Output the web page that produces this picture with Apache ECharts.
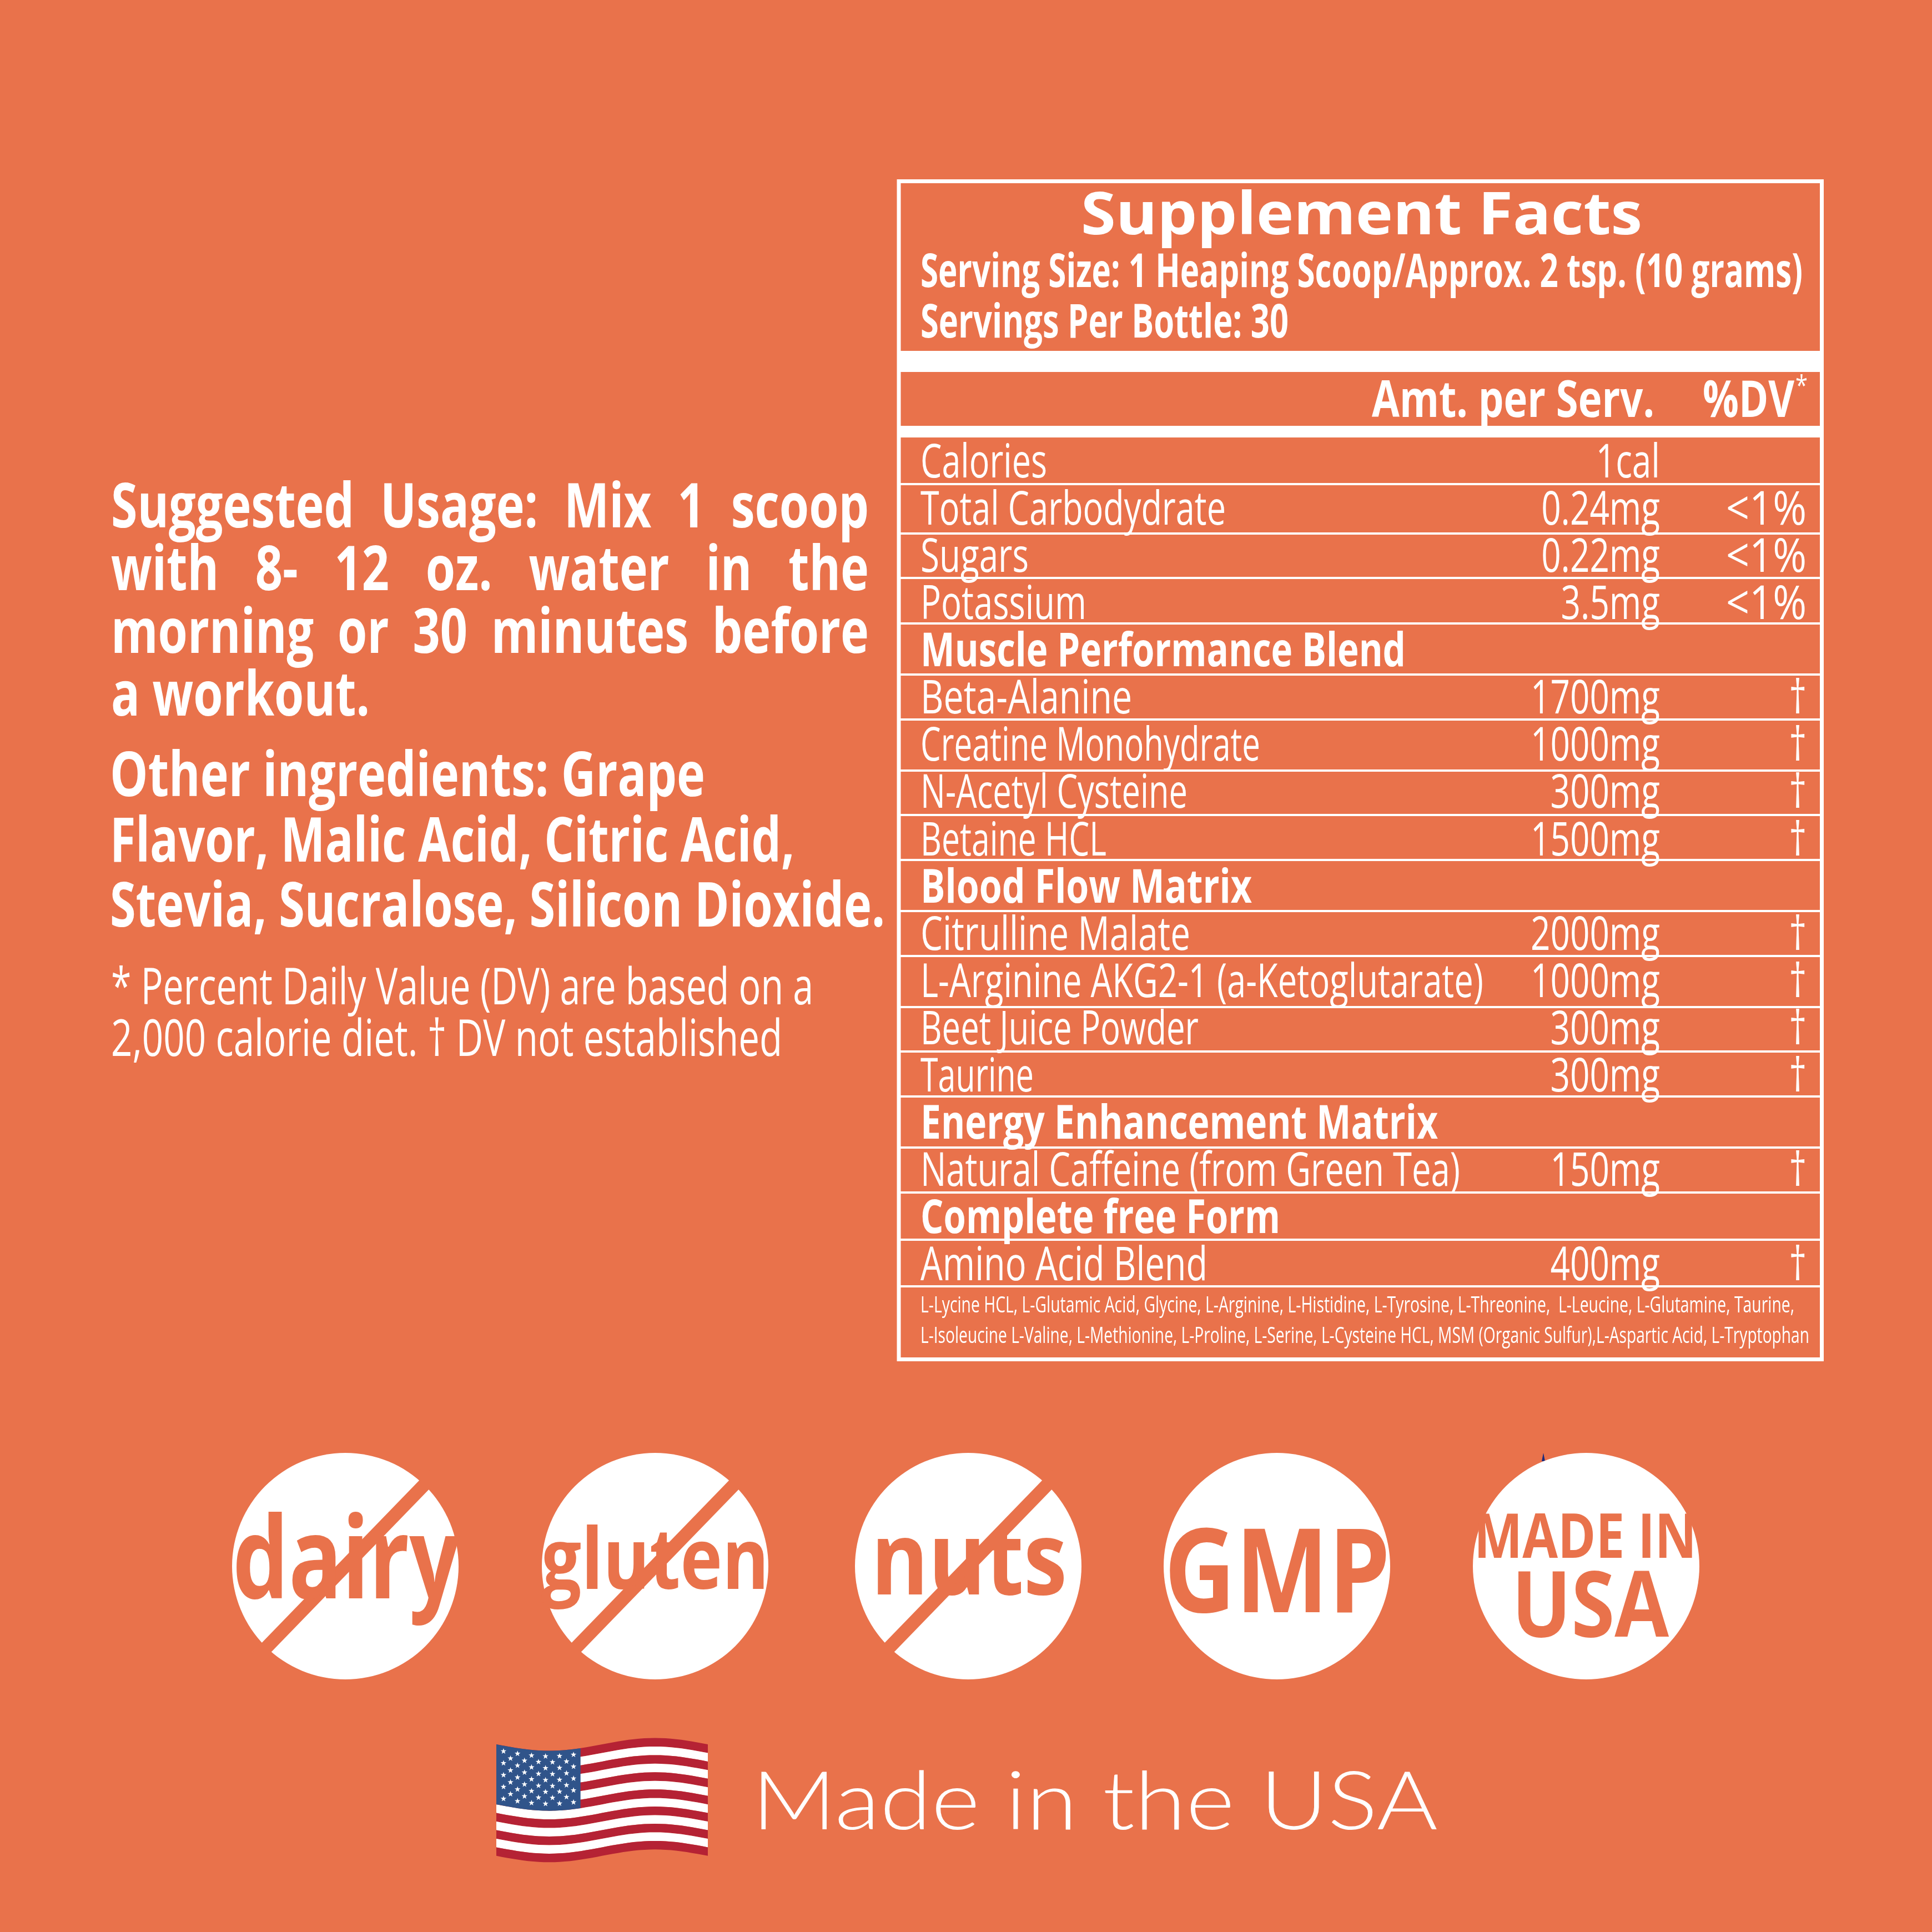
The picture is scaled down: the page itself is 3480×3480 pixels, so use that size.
<!DOCTYPE html>
<html>
<head>
<meta charset="utf-8">
<style>html,body{margin:0;padding:0;background:#E9724B}#main{width:3480px;height:3480px}</style>
<script src="https://cdn.jsdelivr.net/npm/echarts@6/dist/echarts.min.js"></script>
</head>
<body>
<div id="main"></div>
<script>
// table content
var rowNames = ['Calories','Total Carbodydrate','Sugars','Potassium','Muscle Performance Blend','Beta-Alanine','Creatine Monohydrate','N-Acetyl Cysteine','Betaine HCL','Blood Flow Matrix','Citrulline Malate','L-Arginine AKG2-1 (a-Ketoglutarate)','Beet Juice Powder','Taurine','Energy Enhancement Matrix','Natural Caffeine (from Green Tea)','Complete free Form','Amino Acid Blend'];
var rowAmounts = ['1cal','0.24mg','0.22mg','3.5mg','','1700mg','1000mg','300mg','1500mg','','2000mg','1000mg','300mg','300mg','','150mg','','400mg'];
var rowDv = ['','<1%','<1%','<1%','','†','†','†','†','','†','†','†','†','','†','','†'];
var blendNotes = ['L-Lycine HCL, L-Glutamic Acid, Glycine, L-Arginine, L-Histidine, L-Tyrosine, L-Threonine,  L-Leucine, L-Glutamine, Taurine,','L-Isoleucine L-Valine, L-Methionine, L-Proline, L-Serine, L-Cysteine HCL, MSM (Organic Sulfur),L-Aspartic Acid, L-Tryptophan'];
var usageLines = ['Suggested Usage: Mix 1 scoop','with 8- 12 oz. water in the','morning or 30 minutes before','a workout.'];
var otherLines = ['Other ingredients: Grape','Flavor, Malic Acid, Citric Acid,','Stevia, Sucralose, Silicon Dioxide.'];
var noteLines = ['* Percent Daily Value (DV) are based on a','2,000 calorie diet. † DV not established'];

var BG = '#E9724B', WHITE = '#fff', FONT = '"Open Sans"';
var g = [];
var ctx = document.createElement('canvas').getContext('2d');

function fontStr(size, weight) { return weight + ' ' + size + 'px ' + FONT; }
function measure(s, size, weight) { ctx.font = fontStr(size, weight); return ctx.measureText(s).width; }
// zrender draws text on the middle baseline, so work out where the alphabetic one lands
function midOffset(size, weight) {
    ctx.font = fontStr(size, weight);
    ctx.textBaseline = 'middle';
    return ctx.measureText('H').actualBoundingBoxDescent;
}
function text(s, x, base, size, weight, sx, align, fill, z) {
    g.push({
        type: 'text', x: x, y: base - midOffset(size, weight), scaleX: sx, z: z || 10,
        style: { text: s, fontFamily: FONT, fontSize: size, fontWeight: weight, fill: fill || WHITE, align: align || 'left', verticalAlign: 'middle' }
    });
}
// fit a string between two x positions
function fit(s, x0, x1, base, size, weight, fill, z) {
    text(s, x0, base, size, weight, (x1 - x0) / measure(s, size, weight), 'left', fill, z);
}
function justify(s, x0, x1, base, size, weight, sx) {
    var words = s.split(' ');
    var total = 0;
    words.forEach(function (w) { total += measure(w, size, weight) * sx; });
    var gap = (x1 - x0 - total) / (words.length - 1);
    var x = x0;
    words.forEach(function (w) {
        text(w, x, base, size, weight, sx);
        x += measure(w, size, weight) * sx + gap;
    });
}
function rect(x, y, w, h, fill) {
    g.push({ type: 'rect', z: 5, shape: { x: x, y: y, width: w, height: h }, style: { fill: fill } });
}

// left column
var usageScale = 466 / measure(usageLines[3], 112, 700);
justify(usageLines[0], 200, 1565, 950, 112, 700, usageScale);
justify(usageLines[1], 200, 1565, 1063, 112, 700, usageScale);
justify(usageLines[2], 200, 1565, 1176, 112, 700, usageScale);
text(usageLines[3], 200, 1289, 112, 700, usageScale);
fit(otherLines[0], 198, 1270, 1434, 112, 700);
fit(otherLines[1], 198, 1431, 1552, 112, 700);
fit(otherLines[2], 198, 1594, 1669, 112, 700);
fit(noteLines[0], 200, 1465, 1809, 92, 400);
fit(noteLines[1], 200, 1409, 1902, 92, 400);

// facts box
g.push({ type: 'rect', z: 5, shape: { x: 1619, y: 326.5, width: 1662.5, height: 2122 }, style: { fill: 'none', stroke: WHITE, lineWidth: 7 } });
rect(1619, 632, 1662, 38, WHITE);
rect(1619, 767, 1662, 21, WHITE);
fit('Supplement Facts', 1947, 2958, 422, 105, 700);
fit('Serving Size: 1 Heaping Scoop/Approx. 2 tsp. (10 grams)', 1658, 3247, 517, 85, 700);
fit('Servings Per Bottle: 30', 1658, 2321, 608, 85, 700);
fit('Amt. per Serv.', 2471, 2980, 751, 92, 700);
fit('%DV', 3067, 3232, 751, 92, 700);
text('*', 3234, 712, 50, 400, 0.8);

var rowBottoms = [872, 961, 1041, 1123, 1215, 1296, 1388, 1468, 1549, 1641, 1722, 1814, 1894, 1975, 2067, 2148, 2233, 2317];
var rowBases = [860, 945, 1030, 1115, 1200, 1285, 1370, 1455, 1541, 1626, 1711, 1796, 1881, 1966, 2051, 2136, 2221, 2306];
var nameEnds = [1886, 2208, 1853, 1957, 2532, 2039, 2270, 2139, 1993, 2255, 2144, 2672, 2159, 1862, 2590, 2630, 2306, 2175];
var rowScale = 0.73;
rowNames.forEach(function (name, i) {
    var base = rowBases[i];
    rect(1619, rowBottoms[i] - 2, 1662, 4, WHITE);
    if (rowAmounts[i] === '') {
        fit(name, 1658, nameEnds[i], base, 85, 700);
    } else {
        fit(name, 1658, nameEnds[i], base, 85, 400);
        text(rowAmounts[i], 2990, base, 85, 400, rowScale, 'right');
        if (rowDv[i] === '†') text(rowDv[i], 3254, base, 85, 400, rowScale, 'right');
        else if (rowDv[i]) text(rowDv[i], 3254, base, 85, 400, 145 / measure(rowDv[i], 85, 400), 'right');
    }
});
fit(blendNotes[0], 1658, 3232, 2364, 41, 400);
fit(blendNotes[1], 1658, 3259, 2419, 41, 400);

// badges
function badge(cx, slash) {
    g.push({ type: 'circle', z: 5, shape: { cx: cx, cy: 2821, r: 204 }, style: { fill: WHITE } });
    if (slash) g.push({ type: 'line', z: 6, shape: { x1: cx + 160, y1: 2821 - 165, x2: cx - 160, y2: 2821 + 165 }, style: { stroke: BG, lineWidth: 24 } });
}
badge(622, true); badge(1180, true); badge(1744, true); badge(2300, false); badge(2857, false);
fit('dairy', 419, 828, 2879, 204, 700, BG, 7);
fit('gluten', 975, 1385, 2862, 153, 700, BG, 7);
fit('nuts', 1569, 1922, 2872, 183, 700, BG, 7);
fit('GMP', 2097, 2504, 2904, 211, 700, BG, 7);
fit('MADE IN', 2655, 3056, 2806, 111, 700, BG, 7);
fit('USA', 2723, 3006, 2948, 165, 700, BG, 7);
g.push({ type: 'polygon', z: 4, shape: { points: [[2780, 2617], [2777, 2632], [2783, 2632]] }, style: { fill: '#1B2A7B' } });

// flag
var fx = 894, fy = 3142, fw = 381, stripeH = 15.45;
function wave(t) { return 11.5 * Math.sin(2 * Math.PI * t); }
function stripe(t0, t1, n0, n1, fill) {
    var pts = [], i, t;
    for (i = 0; i <= 40; i++) { t = t0 + (t1 - t0) * i / 40; pts.push([fx + fw * t, fy + wave(t) + n0 * stripeH]); }
    for (i = 40; i >= 0; i--) { t = t0 + (t1 - t0) * i / 40; pts.push([fx + fw * t, fy + wave(t) + n1 * stripeH]); }
    g.push({ type: 'polygon', z: 5, shape: { points: pts }, style: { fill: fill } });
}
for (var s = 0; s < 13; s++) stripe(0, 1, s, s + 1, s % 2 ? WHITE : '#B52234');
stripe(0, 0.398, 0, 7, '#30548A');
function star(cx, cy, r) {
    var pts = [];
    for (var i = 0; i < 10; i++) {
        var a = -Math.PI / 2 + i * Math.PI / 5, rr = i % 2 ? r * 0.4 : r;
        pts.push([cx + rr * Math.cos(a), cy + rr * Math.sin(a)]);
    }
    g.push({ type: 'polygon', z: 6, shape: { points: pts }, style: { fill: WHITE } });
}
for (var row = 0; row < 9; row++) {
    var odd = row % 2, n = odd ? 5 : 6;
    for (var c = 0; c < n; c++) {
        var t = 0.034 + (odd ? 0.033 : 0) + c * 0.0662;
        star(fx + fw * t, fy + wave(t) + 10 + row * 10.7, 5.5);
    }
}
g.push({
    type: 'text', x: 1354, y: 3296 - 48, scaleX: 1.143, z: 10,
    style: { text: 'Made in the USA', fontFamily: 'Lato', fontSize: 147, fontWeight: 300, fill: WHITE, align: 'left', verticalAlign: 'middle' }
});

var chart = echarts.init(document.getElementById('main'));
chart.setOption({ backgroundColor: BG, animation: false, graphic: { elements: g } });
</script>
</body>
</html>
